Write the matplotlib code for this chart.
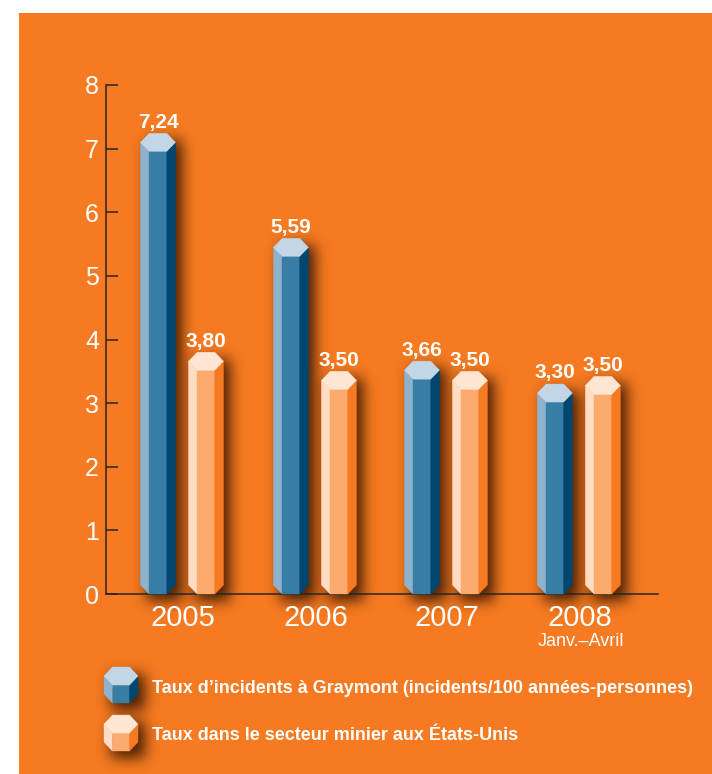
import matplotlib
matplotlib.use('Agg')
import numpy as np
import matplotlib.pyplot as plt
from matplotlib.patches import Polygon, Rectangle

plt.rcParams['font.family'] = ['Liberation Sans', 'DejaVu Sans']

years = ['2005', '2006', '2007', '2008']
graymont = [7.24, 5.59, 3.66, 3.30]
secteur = [3.80, 3.50, 3.50, 3.42]
graymont_labels = ['7,24', '5,59', '3,66', '3,30']
secteur_labels = ['3,80', '3,50', '3,50', '3,50']
group_pos = [0, 1.005, 1.995, 3.0]
yticks = [0, 1, 2, 3, 4, 5, 6, 7, 8]
legend_labels = ['Taux d’incidents à Graymont (incidents/100 années-personnes)',
                 'Taux dans le secteur minier aux États-Unis']

ORANGE = '#F67A21'
BLUE_FACES = ['#C2D6E5', '#8FB2CD', '#387DA3', '#00466F']
PEACH_FACES = ['#FFE6D3', '#FFDCC2', '#FCAA6E', '#F67A21']

W, H = 712, 774
fig = plt.figure(figsize=(W / 100, H / 100), dpi=100, facecolor='white')
fig.add_artist(Rectangle((19 / W, 0), 1, 1 - 13 / H, transform=fig.transFigure, color=ORANGE, lw=0, zorder=-1))

# axe : x=106..658, y=594..85 en pixels
ax = fig.add_axes([106 / W, 1 - 594 / H, 552 / W, 509 / H])
ax.patch.set_alpha(0)
px_x = 132.3
px_y = 63.6
ax.set_xlim(-76 / px_x, 476 / px_x)
ax.set_ylim(0, 8)

shadow_mask = np.zeros((H, W))


def shadow(xc, width, top, base):
    # rectangle decale en pixels, flou applique a la fin
    (x0, y0), (x1, y1) = ax.transData.transform([(xc - width / 2, base), (xc + width / 2, top)])
    shadow_mask[int(y0) - 6:int(y1) - 6, int(x0) + 7:int(x1) + 7] = 1


def hexbar(xc, width, top, base, faces):
    x0, x1 = xc - width / 2, xc + width / 2
    side = width / 4
    h = 9 / px_y
    left = [(x0, top - h), (x0 + side, top - 2 * h), (x0 + side, base), (x0, base + h)]
    mid = [(x0 + side, top - 2 * h), (x1 - side, top - 2 * h), (x1 - side, base), (x0 + side, base)]
    right = [(x1 - side, top - 2 * h), (x1, top - h), (x1, base + h), (x1 - side, base)]
    cap = [(x0, top - h), (x0 + side, top), (x1 - side, top), (x1, top - h),
           (x1 - side, top - 2 * h), (x0 + side, top - 2 * h)]
    for pts, c in zip([left, mid, right, cap], [faces[1], faces[2], faces[3], faces[0]]):
        ax.add_patch(Polygon(pts, closed=True, facecolor=c, edgecolor=c, lw=0.3, zorder=4, clip_on=False))


bar_w = 35 / px_x
off = 24 / px_x

for i, g in enumerate(group_pos):
    shadow(g - off, bar_w, graymont[i], 0)
    shadow(g + off, bar_w, secteur[i], 0)
    hexbar(g - off, bar_w, graymont[i], 0, BLUE_FACES)
    hexbar(g + off, bar_w, secteur[i], 0, PEACH_FACES)
    ax.annotate(graymont_labels[i], (g - off, graymont[i]), xytext=(0, 8), textcoords='offset points',
                ha='center', va='center', color='white', fontsize=15, fontweight='bold', zorder=6)
    ax.annotate(secteur_labels[i], (g + off, secteur[i]), xytext=(0, 8), textcoords='offset points',
                ha='center', va='center', color='white', fontsize=15, fontweight='bold', zorder=6)

for s in ['top', 'right']:
    ax.spines[s].set_visible(False)
for s in ['left', 'bottom']:
    ax.spines[s].set_color('#262626')
    ax.spines[s].set_linewidth(1.1)
    ax.spines[s].set_zorder(3)

ax.set_yticks(yticks)
ax.tick_params(axis='y', direction='in', length=8.5, width=1.1, color='#262626',
               labelcolor='white', labelsize=18, pad=5)
ax.set_xticks([g + 1 / px_x for g in group_pos])
ax.set_xticklabels(years)
ax.tick_params(axis='x', length=0, labelcolor='white', labelsize=21, pad=7.5)

ax.annotate('Janv.–Avril', (group_pos[3], 0), xytext=(1.5, -34), textcoords='offset points',
            ha='center', va='center', color='white', fontsize=13, annotation_clip=False)

# legende
legend_x = (121 - 182) / px_x
leg_w = 34 / px_x
for (t, b), faces, txt, ty in zip([(-73 / px_y, -109 / px_y), (-121 / px_y, -157 / px_y)],
                                  [BLUE_FACES, PEACH_FACES], legend_labels, [-94 / px_y, -141 / px_y]):
    shadow(legend_x, leg_w, t, b)
    hexbar(legend_x, leg_w, t, b, faces)
    ax.text((152 - 182) / px_x, ty, txt, color='white', fontsize=12.95, fontweight='bold',
            ha='left', va='center', clip_on=False)

# flou gaussien de l'ombre
kx = np.arange(-21, 22)
kernel = np.exp(-kx ** 2 / (2 * 7.0 ** 2))
kernel /= kernel.sum()
blur = np.apply_along_axis(lambda r: np.convolve(r, kernel, mode='same'), 1, shadow_mask)
blur = np.apply_along_axis(lambda c: np.convolve(c, kernel, mode='same'), 0, blur)
shade = np.zeros((H, W, 4))
shade[..., 0] = 0.2
shade[..., 1] = 0.08
shade[..., 3] = np.clip(blur, 0, 1) * 0.9
fig.figimage(shade, origin='lower', zorder=-0.5)

fig.savefig('out.png', dpi=100, facecolor='white')
